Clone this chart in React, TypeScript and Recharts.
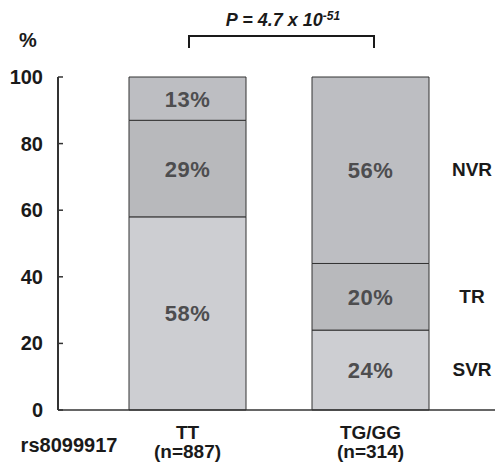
import React from "react";
import { BarChart, Bar, XAxis, YAxis, LabelList } from "recharts";

const genotypes = ["TT", "TG/GG"];
const sampleSizes = [887, 314];
const svr = [58, 24];
const tr = [29, 20];
const nvr = [13, 56];
const yTicks = [0, 20, 40, 60, 80, 100];

const data = genotypes.map((g, i) => ({
  genotype: g,
  n: sampleSizes[i],
  SVR: svr[i],
  TR: tr[i],
  NVR: nvr[i],
}));

const FONT = "'Liberation Sans', Arial, Helvetica, sans-serif";
const INK = "#1a1a1a";
const SEG_TEXT = "#4d4d4f";

const XTick = (props: any) => {
  const { x, y, payload } = props;
  const row = data.find((d) => d.genotype === payload.value);
  return (
    <g transform={`translate(${x},${y})`}>
      <text textAnchor="middle" fontFamily={FONT} fontWeight={700} fontSize={19} fill={INK}>
        <tspan x={0} dy={21}>{payload.value}</tspan>
        <tspan x={0} dy={19}>(n={row ? row.n : ""})</tspan>
      </text>
    </g>
  );
};

const YTick = (props: any) => {
  const { x, y, payload } = props;
  return (
    <text x={x} y={y} dy={7} textAnchor="end" fontFamily={FONT} fontWeight={700} fontSize={20} fill={INK}>
      {payload.value}
    </text>
  );
};

// percentage written inside each stacked segment
const pctLabel = (props: any) => {
  const { x, y, width, height, value } = props;
  return (
    <text
      x={x + width / 2}
      y={y + height / 2}
      dy={8}
      textAnchor="middle"
      fontFamily={FONT}
      fontWeight={700}
      fontSize={22}
      letterSpacing={0.5}
      fill={SEG_TEXT}
    >
      {value}%
    </text>
  );
};

// response category name beside the last bar
const sideLabel = (name: string) => (props: any) => {
  const { x, y, width, height, index } = props;
  if (index !== data.length - 1) return null;
  return (
    <text
      x={x + width + 43}
      y={y + height / 2}
      dy={6}
      textAnchor="middle"
      fontFamily={FONT}
      fontWeight={700}
      fontSize={19}
      fill={INK}
    >
      {name}
    </text>
  );
};

const series = [
  { key: "SVR", fill: "#cdced2" },
  { key: "TR", fill: "#b8b9bc" },
  { key: "NVR", fill: "#bdbec2" },
];

export default function App() {
  return (
    <div style={{ position: "relative", width: 495, height: 460 }}>
      <BarChart
        width={495}
        height={460}
        data={data}
        margin={{ top: 69, right: 3, bottom: 3, left: 0 }}
        barSize={117}
      >
        <XAxis
          dataKey="genotype"
          padding={{ left: 38, right: 38 }}
          axisLine={{ stroke: "#333", strokeWidth: 1.5 }}
          tickLine={false}
          tick={<XTick />}
          height={55}
          interval={0}
        />
        <YAxis
          domain={[0, 100]}
          ticks={yTicks}
          width={50}
          axisLine={{ stroke: "#333", strokeWidth: 2 }}
          tickLine={{ stroke: "#333", strokeWidth: 1.5 }}
          tickSize={-5}
          tickMargin={20}
          tick={<YTick />}
        />
        {series.map((s) => (
          <Bar
            key={s.key}
            dataKey={s.key}
            stackId="a"
            fill={s.fill}
            stroke="#333"
            strokeWidth={1}
            isAnimationActive={false}
          >
            <LabelList dataKey={s.key} content={pctLabel} />
            <LabelList dataKey={s.key} content={sideLabel(s.key)} />
          </Bar>
        ))}
      </BarChart>
      <svg
        width={495}
        height={460}
        style={{ position: "absolute", left: 0, top: 0, pointerEvents: "none" }}
      >
        <text x={20} y={32} dy={7} textAnchor="middle" fontFamily={FONT} fontWeight={700} fontSize={20} fill={INK}>
          %
        </text>
        <text x={275} y={12} dy={6} textAnchor="middle" fontFamily={FONT} fontWeight={700} fontStyle="italic" fontSize={18} fill={INK}>
          P = 4.7 x 10
          <tspan fontSize={12} dy={-6}>-51</tspan>
        </text>
        <path d="M181 40 V28 H366 V40" fill="none" stroke={INK} strokeWidth={2} />
        <text x={61} y={437} dy={7} textAnchor="middle" fontFamily={FONT} fontWeight={700} fontSize={20} fill={INK}>
          rs8099917
        </text>
      </svg>
    </div>
  );
}
